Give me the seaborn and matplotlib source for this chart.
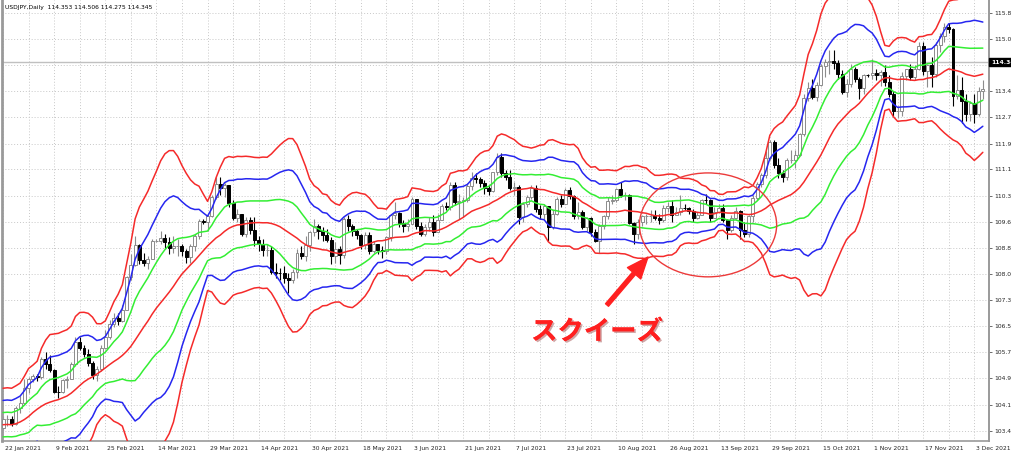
import numpy as np
import pandas as pd
import matplotlib
matplotlib.use("Agg")
import matplotlib.pyplot as plt
import matplotlib.transforms as mtransforms
import matplotlib.patheffects as pe
from matplotlib.patches import Ellipse, Rectangle
import seaborn as sns

# USDJPY daily closes before the visible window (used only for the first band values)
closes_pre = [103.55, 103.60, 103.78, 103.50, 103.20, 103.25, 103.12, 102.71, 103.05, 103.81,
              103.94, 104.25, 103.75, 103.88, 103.86, 103.87, 103.69, 103.87, 103.55, 103.50]

# visible bars, 22 Jan 2021 .. 7 Dec 2021
closes = [103.77, 103.77, 103.63, 104.08, 104.24, 104.68, 104.94, 105.04, 105.02, 105.56,
          105.39, 105.23, 104.58, 104.57, 104.91, 104.94, 105.41, 106.05, 105.86, 105.68,
          105.44, 105.07, 105.25, 105.87, 106.19, 106.58, 106.75, 106.68, 107.01, 107.99,
          108.34, 108.91, 108.48, 108.39, 108.52, 109.03, 109.05, 109.13, 109.01, 108.84,
          108.88, 108.90, 108.75, 108.58, 108.90, 109.19, 109.63, 109.62, 109.79, 110.35,
          110.72, 110.60, 110.69, 110.17, 109.73, 109.84, 109.26, 109.66, 109.38, 109.06,
          108.95, 108.77, 108.79, 108.13, 108.10, 108.08, 107.94, 107.88, 108.11, 108.69,
          108.60, 108.91, 109.31, 109.48, 109.33, 109.21, 109.07, 108.60, 108.80, 108.62,
          109.68, 109.48, 109.35, 109.21, 108.91, 109.22, 108.75, 108.94, 108.79, 108.74,
          109.16, 109.81, 109.86, 109.58, 109.49, 109.54, 110.28, 109.50, 109.25, 109.46,
          109.62, 109.32, 109.67, 110.07, 110.05, 110.71, 110.20, 110.23, 110.27, 110.66,
          110.90, 110.88, 110.75, 110.62, 110.52, 111.09, 111.54, 111.05, 110.95, 110.62,
          110.63, 109.75, 110.14, 110.35, 110.62, 109.98, 109.85, 110.08, 109.47, 109.84,
          110.30, 110.13, 110.55, 110.38, 109.78, 109.91, 109.47, 109.72, 109.31, 109.05,
          109.48, 109.77, 110.22, 110.27, 110.58, 110.41, 110.41, 109.58, 109.24, 109.61,
          109.77, 109.77, 109.78, 109.71, 109.67, 110.02, 110.08, 109.82, 109.91, 110.02,
          110.01, 109.92, 109.71, 109.82, 110.27, 110.26, 109.72, 109.90, 110.01, 109.66,
          109.38, 109.71, 109.93, 109.36, 109.24, 109.79, 110.32, 110.73, 110.99, 111.50,
          111.97, 111.29, 111.05, 110.94, 111.43, 111.43, 111.60, 112.22, 113.27, 113.58,
          113.30, 113.68, 114.22, 114.34, 114.37, 114.33, 114.00, 113.47, 113.69, 114.14,
          113.84, 113.57, 113.96, 113.95, 114.02, 113.97, 114.05, 113.75, 113.41, 112.89,
          112.89, 113.93, 114.13, 113.89, 114.15, 114.81, 114.07, 114.27, 114.00, 114.84,
          115.13, 115.38, 115.34, 113.33, 113.51, 113.18, 112.80, 113.13, 112.80, 113.49,
          113.56]

highs = [103.85, 103.90, 103.85, 104.15, 104.45, 104.95, 105.00, 105.10, 105.10, 105.60,
         105.75, 105.65, 105.25, 104.75, 104.95, 105.05, 105.45, 106.20, 106.20, 105.95,
         105.85, 105.50, 105.35, 105.95, 106.40, 106.70, 106.90, 106.90, 107.15, 108.00,
         108.65, 109.20, 108.95, 108.70, 108.60, 109.10, 109.10, 109.35, 109.25, 109.15,
         109.20, 109.10, 108.95, 108.80, 108.95, 109.25, 109.70, 109.70, 109.85, 110.40,
         110.95, 110.95, 110.75, 110.70, 110.25, 110.00, 109.85, 109.75, 109.75, 109.75,
         109.20, 109.10, 108.95, 108.90, 108.40, 108.25, 108.30, 108.10, 108.20, 108.80,
         108.90, 109.20, 109.35, 109.70, 109.55, 109.45, 109.40, 109.15, 109.00, 108.90,
         109.75, 109.80, 109.55, 109.40, 109.25, 109.30, 109.30, 109.05, 108.95, 108.90,
         109.20, 109.85, 110.20, 109.90, 109.65, 109.70, 110.35, 110.30, 109.60, 109.55,
         109.75, 109.80, 109.85, 110.15, 110.20, 110.80, 110.80, 110.45, 110.35, 110.75,
         111.10, 111.05, 110.95, 110.85, 110.70, 111.10, 111.65, 111.65, 111.15, 111.15,
         110.80, 110.70, 110.20, 110.40, 110.70, 110.70, 110.10, 110.15, 110.05, 109.95,
         110.35, 110.40, 110.60, 110.65, 110.40, 110.20, 109.95, 109.75, 109.75, 109.40,
         109.55, 109.80, 110.35, 110.40, 110.60, 110.80, 110.50, 110.45, 109.60, 109.70,
         109.80, 109.85, 109.95, 109.95, 109.85, 110.10, 110.20, 110.25, 110.05, 110.40,
         110.15, 110.05, 110.00, 109.90, 110.30, 110.45, 110.30, 110.05, 110.15, 110.15,
         109.70, 109.80, 110.05, 109.95, 109.60, 109.80, 110.40, 110.80, 111.05, 111.70,
         112.05, 112.05, 111.50, 111.15, 111.50, 111.75, 111.75, 112.25, 113.40, 113.75,
         113.85, 113.75, 114.30, 114.45, 114.70, 114.70, 114.40, 114.10, 113.85, 114.30,
         114.20, 113.90, 114.00, 114.00, 114.45, 114.15, 114.10, 114.25, 113.95, 113.50,
         113.05, 114.05, 114.15, 114.30, 114.25, 114.95, 114.95, 114.30, 114.50, 114.95,
         115.20, 115.50, 115.50, 115.35, 113.95, 113.90, 113.40, 113.20, 113.40, 113.60,
         113.80]

lows = [103.45, 103.55, 103.55, 103.60, 103.95, 104.20, 104.55, 104.85, 104.90, 104.95,
        105.25, 105.15, 104.55, 104.40, 104.55, 104.70, 104.95, 105.35, 105.80, 105.60,
        105.35, 104.95, 104.90, 105.20, 105.85, 106.15, 106.50, 106.55, 106.65, 107.00,
        107.90, 108.30, 108.35, 108.30, 108.20, 108.50, 109.00, 108.95, 108.80, 108.65,
        108.70, 108.60, 108.60, 108.40, 108.40, 108.75, 109.10, 109.55, 109.35, 109.75,
        110.30, 110.40, 110.35, 110.05, 109.65, 109.60, 109.20, 109.15, 109.25, 108.90,
        108.75, 108.60, 108.60, 108.05, 107.95, 107.90, 107.80, 107.50, 107.80, 107.95,
        108.50, 108.45, 108.75, 109.20, 109.10, 109.05, 109.00, 108.35, 108.40, 108.35,
        108.55, 109.35, 109.20, 109.10, 108.80, 108.80, 108.65, 108.70, 108.65, 108.55,
        108.65, 109.05, 109.70, 109.45, 109.30, 109.35, 109.55, 109.40, 109.20, 109.20,
        109.35, 109.20, 109.30, 109.65, 109.95, 109.95, 110.10, 109.70, 109.75, 110.20,
        110.55, 110.75, 110.65, 110.45, 110.40, 110.50, 111.00, 110.95, 110.85, 110.55,
        110.40, 109.55, 109.60, 110.05, 110.30, 109.90, 109.70, 109.70, 109.05, 109.40,
        109.80, 110.05, 110.15, 110.30, 109.70, 109.70, 109.40, 109.35, 109.20, 109.00,
        108.70, 109.40, 109.70, 110.15, 110.20, 110.35, 110.25, 109.55, 108.95, 109.10,
        109.50, 109.55, 109.60, 109.65, 109.55, 109.60, 109.90, 109.60, 109.80, 109.80,
        109.95, 109.85, 109.60, 109.70, 109.80, 110.15, 109.60, 109.75, 109.90, 109.60,
        109.10, 109.30, 109.70, 109.10, 109.15, 109.15, 109.60, 110.25, 110.65, 110.90,
        111.45, 111.20, 110.90, 110.80, 110.85, 111.35, 111.20, 111.55, 112.15, 113.20,
        113.25, 113.20, 113.65, 113.90, 114.00, 114.15, 113.85, 113.40, 113.30, 113.60,
        113.75, 113.25, 113.40, 113.90, 113.85, 113.80, 113.65, 113.65, 113.30, 112.75,
        112.70, 112.75, 113.80, 113.80, 113.80, 114.10, 113.95, 113.60, 113.60, 113.90,
        114.65, 114.95, 115.20, 113.05, 113.25, 112.55, 112.60, 112.60, 112.55, 112.75,
        113.25]

date_labels = ["22 Jan 2021", "9 Feb 2021", "25 Feb 2021", "14 Mar 2021", "29 Mar 2021",
               "14 Apr 2021", "30 Apr 2021", "18 May 2021", "3 Jun 2021", "21 Jun 2021",
               "7 Jul 2021", "23 Jul 2021", "10 Aug 2021", "26 Aug 2021", "13 Sep 2021",
               "29 Sep 2021", "15 Oct 2021", "1 Nov 2021", "17 Nov 2021", "3 Dec 2021"]
price_ticks = [115.80, 115.04, 114.26, 113.49, 112.71, 111.93, 111.17, 110.39, 109.61,
               108.84, 108.06, 107.30, 106.52, 105.74, 104.97, 104.19, 103.41]
last_price = 114.345
title_text = "USDJPY,Daily  114.353 114.506 114.275 114.345"

# ---- data prep
c = np.array(closes)
o = np.r_[closes_pre[-1], c[:-1]]
h = np.maximum(np.array(highs), np.maximum(o, c))
l = np.minimum(np.array(lows), np.minimum(o, c))
x = np.arange(len(c))

# Bollinger bands (20, population std) as in MT4
s = pd.Series(closes_pre + closes)
mid = s.rolling(20).mean().iloc[len(closes_pre):].to_numpy()
sd = s.rolling(20).std(ddof=0).iloc[len(closes_pre):].to_numpy()

band_colors = {"+3": "#f52a2a", "+2": "#2626f0", "+1": "#33ee33", "0": "#f52a2a",
               "-1": "#33ee33", "-2": "#2626f0", "-3": "#f52a2a"}
frames = []
for k in [3, 2, 1, 0, -1, -2, -3]:
    name = "0" if k == 0 else f"{k:+d}"
    frames.append(pd.DataFrame({"bar": x, "value": mid + k * sd, "line": name}))
bands = pd.concat(frames, ignore_index=True)

# ---- figure
sns.set_style("white")
plt.rcParams["font.family"] = ["DejaVu Sans", "Noto Sans CJK JP"]

W, H = 1024, 455
fig = plt.figure(figsize=(W / 100, H / 100), dpi=100)
ax = fig.add_axes([2 / W, 14 / H, 987 / W, 441 / H])

grid_kw = dict(color="#c8c8c8", lw=0.7, linestyle=(0, (1, 2)), zorder=0)
for gx in range(0, len(c) + 1, 6):
    ax.axvline(gx, **grid_kw)
for gy in price_ticks:
    ax.axhline(gy, **grid_kw)

ax.axhline(last_price, color="#c0c0c0", lw=1.0, zorder=1)

up = c >= o
dn = ~up
ax.vlines(x[up], l[up], h[up], color="#8c8c8c", lw=0.8, zorder=2)
ax.vlines(x[dn], l[dn], h[dn], color="black", lw=0.8, zorder=2)
ax.bar(x[up], c[up] - o[up], bottom=o[up], width=0.7, color="white",
       edgecolor="#8c8c8c", linewidth=0.7, zorder=3)
ax.bar(x[dn], o[dn] - c[dn], bottom=c[dn], width=0.7, color="black",
       edgecolor="black", linewidth=0.7, zorder=3)

sns.lineplot(data=bands, x="bar", y="value", hue="line", palette=band_colors,
             units="line", estimator=None, legend=False, linewidth=1.1, ax=ax, zorder=4)

ax.set_xlim(-0.25, 231.45)
ax.set_ylim(103.115, 116.185)

# axes decoration (MT4 look)
ax.spines["top"].set_visible(False)
for side in ["left", "right", "bottom"]:
    ax.spines[side].set_color("#9a9a9a")
ax.spines["left"].set_linewidth(2.0)
ax.spines["right"].set_linewidth(1.4)
ax.spines["bottom"].set_linewidth(1.2)

ax.yaxis.tick_right()
ax.set_yticks(price_ticks)
ax.set_yticklabels([f"{p:.2f}" for p in price_ticks])
ax.set_xticks(range(0, 12 * len(date_labels), 12))
ax.set_xticklabels(date_labels)
ax.tick_params(axis="both", labelsize=4.3, length=2.2, width=0.6, color="#555555",
               pad=1.5, labelcolor="#222222")
offset = mtransforms.ScaledTranslation(2 / 100, 0, fig.dpi_scale_trans)
for lbl in ax.get_xticklabels():
    lbl.set_horizontalalignment("left")
    lbl.set_transform(lbl.get_transform() + offset)
ax.set_xlabel("")
ax.set_ylabel("")

# current price box on the price scale
ax.text(1.002, last_price, "114.345", transform=ax.get_yaxis_transform(),
        fontsize=4.3, color="white", fontweight="bold", va="center", ha="left",
        bbox=dict(boxstyle="square,pad=0.25", fc="black", ec="black"),
        clip_on=False, zorder=10)

fig.text(5 / W, 1 - 8 / H, title_text, fontsize=4.3, color="black", va="center", ha="left")

# squeeze annotation
ax.add_patch(Ellipse((165.5, 109.52), 32.2, 3.08, fill=False, ec="#ec3a3a",
                     lw=1.0, zorder=6))
ax.annotate("", xy=(648, H - 257), xycoords="figure pixels",
            xytext=(607, H - 305), textcoords="figure pixels",
            arrowprops=dict(arrowstyle="simple,head_length=1.1,head_width=0.9,tail_width=0.2",
                            color="#ff2020", mutation_scale=14, shrinkA=0, shrinkB=0))
fig.text(531 / W, 1 - 332 / H, "スクイーズ", fontsize=19, color="#ff2020",
         family=["Noto Sans CJK JP", "DejaVu Sans"], fontweight="bold",
         ha="left", va="center",
         path_effects=[pe.withSimplePatchShadow(offset=(1.2, -1.2), shadow_rgbFace="#7a0000", alpha=0.35),
                       pe.Normal()])

# screenshot is cut off just right of the price labels
fig.patches.append(Rectangle((1011 / W, 0), 13 / W, 1, transform=fig.transFigure,
                             fc="white", ec="none", zorder=20))

fig.savefig("out.png", dpi=100)
